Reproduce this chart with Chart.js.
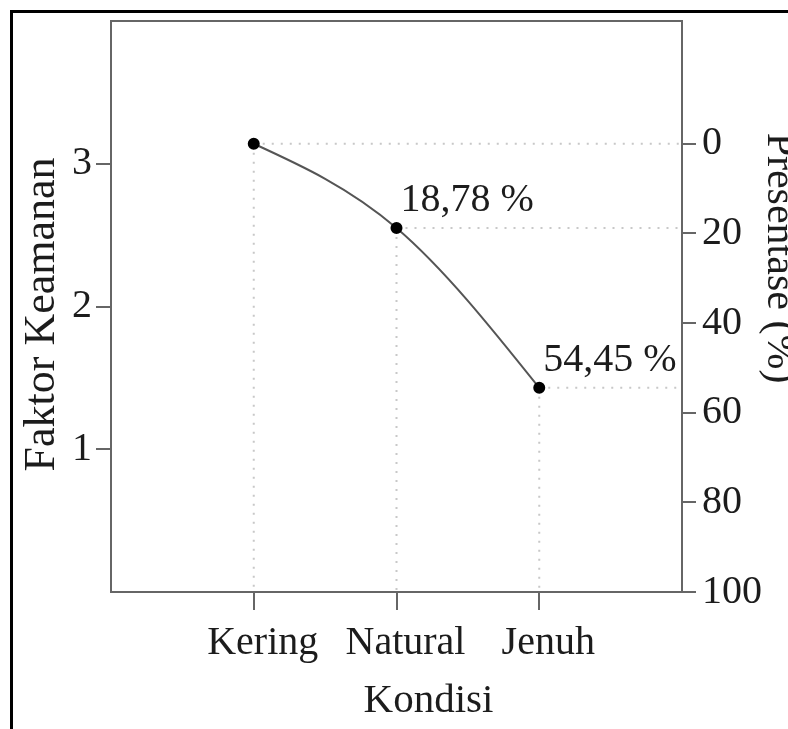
<!DOCTYPE html>
<html>
<head>
<meta charset="utf-8">
<script src="https://cdn.jsdelivr.net/npm/chart.js@4.4.1/dist/chart.umd.min.js"></script>
<style>
  html, body { margin: 0; padding: 0; background: #fff; overflow: hidden; width: 788px; height: 729px; }
  #frame { position: absolute; left: 10px; top: 10px; width: 900px; height: 900px;
           border-left: 3px solid #000; border-top: 3px solid #000; }
  #chart { position: absolute; left: 0; top: 0; }
</style>
</head>
<body>
<div id="frame"></div>
<canvas id="chart" width="810" height="729"></canvas>
<script>
// data
const categories = ['Kering', 'Natural', 'Jenuh'];
const faktorKeamanan = [3.14, 2.55, 1.43];
const presentase = [0, 18.78, 54.45];
const leftTicks = [1, 2, 3];
const rightTicks = [0, 20, 40, 60, 80, 100];

const serif = 'Liberation Serif';
const axisGray = '#666';
const textColor = '#1c1c1c';
const xMax = categories.length + 1;
const yMax = 4;
// right axis: 0 % sits at the first safety factor, 100 % at zero
const y2Min = (1 - yMax / faktorKeamanan[0]) * 100;

let mainPoints = faktorKeamanan.map((v, i) => ({ x: i + 1, y: v }));

let datasets = [{
    data: mainPoints,
    borderColor: '#555',
    borderWidth: 2,
    tension: 0.4,
    pointRadius: 5,
    pointBackgroundColor: '#000',
    pointBorderColor: '#000',
    order: 0
}];

// dotted drop lines to the right axis and to the bottom
faktorKeamanan.forEach(function (v, i) {
    let dotted = {
        borderColor: '#c8c8c8',
        borderWidth: 2,
        borderDash: [2, 7],
        pointRadius: 0,
        order: 1
    };
    datasets.push(Object.assign({ data: [{ x: i + 1, y: v }, { x: xMax, y: v }] }, dotted));
    datasets.push(Object.assign({ data: [{ x: i + 1, y: v }, { x: i + 1, y: 0 }] }, dotted));
});

const tickFont = { family: serif, size: 40 };

// keep label overflow from pushing the plot box down
function noPad(s) { s.paddingTop = 0; s.paddingBottom = 0; }

// natural cubic spline through the line's points (the original curve is one)
const naturalSpline = {
    id: 'naturalSpline',
    beforeDatasetDraw(chart, args) {
        if (args.index !== 0) return;
        let meta = args.meta;
        meta.dataset.updateControlPoints(chart.chartArea);
        let p = meta.data;
        let n = p.length;
        if (n < 3) return;
        let h = [], d = [];
        for (let i = 0; i < n - 1; i++) {
            h.push(p[i + 1].x - p[i].x);
            d.push((p[i + 1].y - p[i].y) / h[i]);
        }
        // second derivatives, M[0] = M[n-1] = 0
        let M = new Array(n).fill(0);
        let a = [], b = [], c = [], r = [];
        for (let i = 1; i < n - 1; i++) {
            a.push(h[i - 1]); b.push(2 * (h[i - 1] + h[i])); c.push(h[i]); r.push(6 * (d[i] - d[i - 1]));
        }
        let m = b.length;
        for (let i = 1; i < m; i++) {
            let w = a[i] / b[i - 1];
            b[i] -= w * c[i - 1];
            r[i] -= w * r[i - 1];
        }
        for (let i = m - 1; i >= 0; i--) {
            M[i + 1] = (r[i] - (i < m - 1 ? c[i] * M[i + 2] : 0)) / b[i];
        }
        for (let i = 0; i < n - 1; i++) {
            let s0 = d[i] - h[i] * (2 * M[i] + M[i + 1]) / 6;
            let s1 = d[i] + h[i] * (M[i] + 2 * M[i + 1]) / 6;
            p[i].cp2x = p[i].x + h[i] / 3;
            p[i].cp2y = p[i].y + s0 * h[i] / 3;
            p[i + 1].cp1x = p[i + 1].x - h[i] / 3;
            p[i + 1].cp1y = p[i + 1].y - s1 * h[i] / 3;
        }
    }
};

const extras = {
    id: 'extras',
    afterDraw(chart) {
        let ctx = chart.ctx;
        let a = chart.chartArea;
        ctx.save();
        // top edge of the box
        ctx.strokeStyle = axisGray;
        ctx.lineWidth = 2;
        ctx.strokeRect(a.left, a.top, a.right - a.left, a.bottom - a.top);

        ctx.fillStyle = textColor;
        // point labels
        let meta = chart.getDatasetMeta(0);
        ctx.font = '40px "' + serif + '"';
        ctx.textAlign = 'left';
        ctx.textBaseline = 'alphabetic';
        presentase.forEach(function (p, i) {
            if (p <= 0) return;
            let pt = meta.data[i];
            ctx.fillText(p.toFixed(2).replace('.', ',') + ' %', pt.x + 4, pt.y - 17);
        });

        // axis titles
        ctx.textAlign = 'center';
        ctx.font = '41px "' + serif + '"';
        ctx.fillText('Kondisi', (a.left + a.right) / 2 + 32, a.bottom + 120);

        ctx.textBaseline = 'middle';
        ctx.save();
        ctx.font = '44px "' + serif + '"';
        ctx.translate(a.left - 69, (a.top + a.bottom) / 2 + 8);
        ctx.rotate(-Math.PI / 2);
        ctx.fillText('Faktor Keamanan', 0, 0);
        ctx.restore();

        ctx.save();
        ctx.font = '42px "' + serif + '"';
        ctx.translate(a.right + 97, 258);
        ctx.rotate(Math.PI / 2);
        ctx.fillText('Presentase (%)', 0, 0);
        ctx.restore();
        ctx.restore();
    }
};

new Chart(document.getElementById('chart'), {
    type: 'line',
    data: { datasets: datasets },
    options: {
        responsive: false,
        animation: false,
        devicePixelRatio: 1,
        layout: { padding: { top: 21, left: 0, right: 0, bottom: 0 } },
        plugins: { legend: { display: false }, tooltip: { enabled: false } },
        scales: {
            x: {
                type: 'linear',
                min: 0,
                max: xMax,
                afterBuildTicks: s => { s.ticks = categories.map((c, i) => ({ value: i + 1 })); },
                afterFit: s => { s.height = 729 - 592; s.paddingLeft = 0; s.paddingRight = 0; },
                ticks: {
                    font: tickFont, color: textColor, padding: 9, labelOffset: 9,
                    callback: v => categories[v - 1]
                },
                grid: { drawOnChartArea: false, tickLength: 18, color: axisGray, lineWidth: 2 },
                border: { color: axisGray, width: 2 }
            },
            y: {
                position: 'left',
                min: 0,
                max: yMax,
                afterBuildTicks: s => { s.ticks = leftTicks.map(v => ({ value: v })); },
                afterFit: s => { s.width = 111; noPad(s); },
                ticks: { font: tickFont, color: textColor, padding: 4 },
                grid: { drawOnChartArea: false, tickLength: 15, color: axisGray, lineWidth: 2 },
                border: { color: axisGray, width: 2 }
            },
            y2: {
                position: 'right',
                reverse: true,
                min: y2Min,
                max: 100,
                afterBuildTicks: s => { s.ticks = rightTicks.map(v => ({ value: v })); },
                afterFit: s => { s.width = 810 - 682; noPad(s); },
                ticks: { font: tickFont, color: textColor, padding: 6 },
                grid: { drawOnChartArea: false, tickLength: 14, color: axisGray, lineWidth: 2 },
                border: { color: axisGray, width: 2 }
            }
        }
    },
    plugins: [naturalSpline, extras]
});
</script>
</body>
</html>
